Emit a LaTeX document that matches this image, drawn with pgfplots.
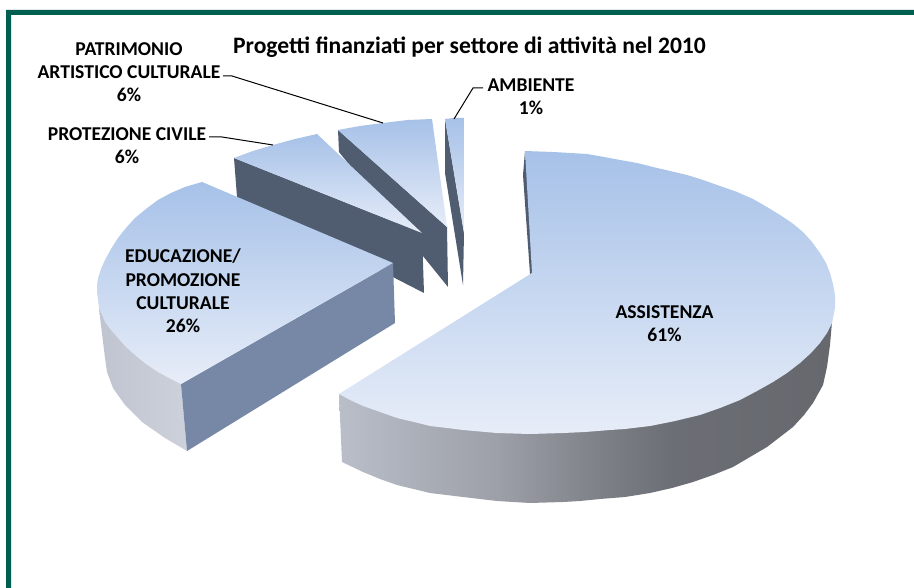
\documentclass[border=0pt]{standalone}
\usepackage{fontspec}
\setmainfont{Carlito}
\usepackage{pgfplots}
\pgfplotsset{compat=1.18}
\definecolor{topa}{HTML}{A6C1E8}
\definecolor{topb}{HTML}{E7EDF8}
\definecolor{darkside}{HTML}{505D70}
\definecolor{cutface}{HTML}{7688A6}
\definecolor{frame}{HTML}{005F4E}
\definecolor{sa}{HTML}{B9BEC9}
\definecolor{sb}{HTML}{9DA0A8}
\definecolor{sc}{HTML}{7D7F86}
\definecolor{sd}{HTML}{6B6E74}
\definecolor{se}{HTML}{66686E}
\definecolor{ea}{HTML}{BFC4D0}
\definecolor{eb}{HTML}{CDD1DB}
\pgfdeclarehorizontalshading{assistside}{100bp}{color(0bp)=(sa); color(25bp)=(sa); color(41bp)=(sb); color(52bp)=(sc); color(59bp)=(sd); color(75bp)=(se); color(100bp)=(se)}
\begin{document}
\begin{tikzpicture}
\begin{axis}[
  scale only axis, width=914pt, height=588pt,
  xmin=0, xmax=914, ymin=0, ymax=588, y dir=reverse,
  hide axis, no markers, clip=true,
  every axis plot/.append style={forget plot},
]
% page background
\addplot[draw=none, fill=white] coordinates {(0,0) (914,0) (914,588) (0,588)};
% frame (top and left only)
\addplot[draw=none, fill=frame] coordinates {(6,588) (6,10) (914,10) (914,15) (11,15) (11,588)};

% AMBIENTE 1%
\addplot[draw=none, fill=darkside] coordinates {(445,119) (464,233) (463,285) (445,173)};
\addplot[draw=none, top color=topa, bottom color=topb] coordinates {(445,119) (454,118) (464,118) (464,233)};

% PATRIMONIO 6%
\addplot[draw=none, fill=darkside] coordinates {(338,130) (447,227) (448,287) (339,152)};
\addplot[draw=none, top color=topa, bottom color=topb] coordinates {(338,130) (360,126) (383,123) (408,120) (432,119) (447,227)};

% PROTEZIONE CIVILE 6%
\addplot[draw=none, fill=darkside] coordinates {(234,158) (422,233) (424,293) (237,197)};
\addplot[draw=none, top color=topa, bottom color=topb] coordinates {(234,158) (253,151) (273,145) (295,139) (317,134) (422,233)};

% EDUCAZIONE 26%
\addplot[draw=none, left color=ea, right color=eb] coordinates {(99,308) (101,325) (103,342) (105,358) (107,372) (113,388) (125,405) (142,422) (165,438) (187,451) (181,384)};
\addplot[draw=none, fill=cutface] coordinates {(181,384) (393,263) (395,323) (187,451)};
\addplot[draw=none, top color=topa, bottom color=topb] coordinates {(202,182) (185,187) (171,193) (158,200) (146,209) (135,218) (126,228) (118,238) (111,249) (105,260) (101,269) (98,278) (97,285) (97,292) (98,300) (99,308) (102,315) (105,322) (111,330) (118,338) (126,347) (135,355) (146,364) (158,372) (169,378) (181,384) (393,263)};

% ASSISTENZA 61%
\addplot[draw=none, fill=darkside] coordinates {(525,151) (535,272) (530,274) (523,175)};
\addplot[draw=none, shading=assistside] coordinates {(832,322) (830,345) (827,367) (823,385) (813,403) (804,415) (793,427) (780,437) (767,447) (750,457) (733,467) (713,475) (693,482) (672,488) (650,493) (625,497) (600,499) (580,501) (563,502) (530,503) (497,501) (463,497) (430,493) (397,485) (380,479) (363,472) (342,462) (339,394)};
\addplot[draw=none, top color=topa, bottom color=topb] coordinates {(525,151) (553,152) (570,153) (587,154) (604,157) (620,160) (637,163) (653,167) (670,171) (687,175) (703,180) (720,186) (737,192) (753,199) (767,207) (780,215) (792,223) (803,232) (812,242) (820,253) (826,263) (830,273) (833,284) (835,295) (835,308) (832,323) (827,333) (820,343) (811,353) (800,363) (787,373) (773,382) (757,391) (740,400) (720,408) (700,415) (675,421) (650,426) (625,429) (610,430) (585,432) (563,433) (530,434) (497,433) (463,430) (447,428) (430,426) (414,422) (397,418) (380,412) (363,406) (350,400) (339,394) (532,273)};

% leader lines
\addplot[black, line width=1pt] coordinates {(223,76) (232,76) (383,123)};
\addplot[black, line width=1pt] coordinates {(209,137) (222,137) (273,145)};
\addplot[black, line width=1pt] coordinates {(454,119) (473,88) (483,88)};

% text
\node[font=\fontsize{23.6}{26}\selectfont\bfseries, anchor=center] at (axis cs:469.5,47) {Progetti finanziati per settore di attività nel 2010};
\tikzset{lab/.style={font=\fontsize{19.6}{23.3}\selectfont\bfseries, align=center, anchor=center}}
\node[lab] at (axis cs:129,72) {PATRIMONIO\\ARTISTICO CULTURALE\\6\%};
\node[lab] at (axis cs:127,146) {PROTEZIONE CIVILE\\6\%};
\node[lab] at (axis cs:531,97) {AMBIENTE\\1\%};
\node[lab] at (axis cs:183,291) {EDUCAZIONE/\\PROMOZIONE\\CULTURALE\\26\%};
\node[lab] at (axis cs:664.5,324) {ASSISTENZA\\61\%};
\end{axis}
\end{tikzpicture}
\end{document}
